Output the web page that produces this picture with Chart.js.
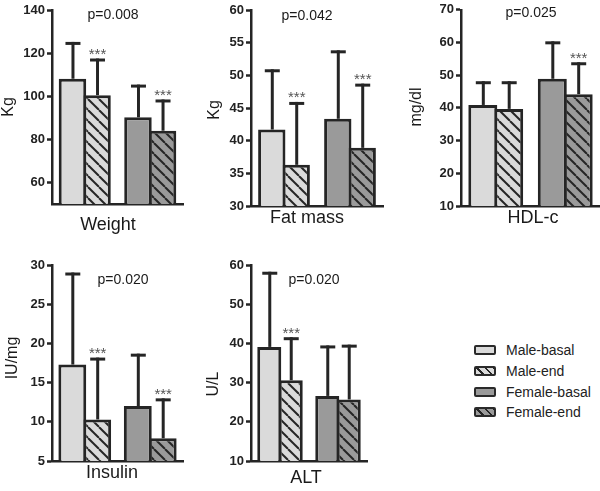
<!DOCTYPE html>
<html><head><meta charset="utf-8">
<script src="https://cdn.jsdelivr.net/npm/chart.js@4.4.1/dist/chart.umd.min.js"></script>
<style>
html,body{margin:0;padding:0;background:#fff;overflow:hidden;}
#wrap{position:relative;width:600px;height:491px;font-family:"Liberation Sans",Arial,sans-serif;}
canvas.pc{position:absolute;}
.leg{position:absolute;left:474px;height:21px;display:flex;align-items:center;font-size:14px;color:#222;}
.sw{width:22px;height:10px;box-sizing:border-box;border:2.5px solid #2a2a2a;border-radius:2px;margin-right:10px;}
</style></head>
<body><div id="wrap">
<canvas class="pc" id="c0" width="200" height="240" style="left:0;top:0"></canvas>
<canvas class="pc" id="c1" width="200" height="240" style="left:200px;top:0"></canvas>
<canvas class="pc" id="c2" width="200" height="240" style="left:400px;top:0"></canvas>
<canvas class="pc" id="c3" width="200" height="251" style="left:0;top:240px"></canvas>
<canvas class="pc" id="c4" width="200" height="251" style="left:200px;top:240px"></canvas>
<div id="legend"></div>
</div>
<script>
// ---- data ----
const categories = ['Male', 'Female'];
const seriesNames = ['Male-basal', 'Male-end', 'Female-basal', 'Female-end'];

const weightMean = [108.1, 100.5, 90.2, 84.0];
const weightSD   = [16.4, 16.3, 14.5, 13.8];
const weightStars = [false, true, false, true];
const weightTicks = [60, 80, 100, 120, 140];
const weightRange = [50, 140];

const fatMean = [41.7, 36.3, 43.35, 38.9];
const fatSD   = [9.0, 9.4, 10.25, 9.6];
const fatStars = [false, true, false, true];
const fatTicks = [30, 35, 40, 45, 50, 55, 60];
const fatRange = [30, 60];

const hdlMean = [40.9, 39.7, 48.9, 44.2];
const hdlSD   = [6.8, 8.0, 11.0, 9.3];
const hdlStars = [false, false, false, true];
const hdlTicks = [10, 20, 30, 40, 50, 60, 70];
const hdlRange = [10, 70];

const insulinMean = [17.3, 10.3, 12.0, 7.9];
const insulinSD   = [11.55, 7.7, 6.5, 4.9];
const insulinStars = [false, true, false, true];
const insulinTicks = [5, 10, 15, 20, 25, 30];
const insulinRange = [5, 30];

const altMean = [39.1, 30.6, 26.6, 25.7];
const altSD   = [18.8, 10.6, 12.5, 13.6];
const altStars = [false, true, false, false];
const altTicks = [10, 20, 30, 40, 50, 60];
const altRange = [10, 60];

const panelTitles = ['Weight', 'Fat mass', 'HDL-c', 'Insulin', 'ALT'];
const panelUnits = ['Kg', 'Kg', 'mg/dl', 'IU/mg', 'U/L'];
const panelP = ['p=0.008', 'p=0.042', 'p=0.025', 'p=0.020', 'p=0.020'];

// ---- styling / layout ----
const FONT = '"Liberation Sans", Arial, sans-serif';
const DARK = '#252525';
const LIGHT = '#dadada';
const MID = '#9a9a9a';

function hatch(bg) {
  const s = 11;
  const c = document.createElement('canvas');
  c.width = s; c.height = s;
  const g = c.getContext('2d');
  g.fillStyle = bg; g.fillRect(0, 0, s, s);
  g.strokeStyle = DARK; g.lineWidth = 2;
  for (const o of [-s, 0, s]) {
    g.beginPath(); g.moveTo(o, 0); g.lineTo(o + s, s); g.stroke();
  }
  return g.createPattern(c, 'repeat');
}
const fills = [LIGHT, hatch(LIGHT), MID, hatch(MID)];

const panels = [
  {id: 'c0', mean: weightMean, sd: weightSD, stars: weightStars, ticks: weightTicks, range: weightRange,
   area: {l: 52, t: 10, r: 183, b: 204}, w: 200, h: 240, cat: 0.75,
   pPos: [113, 15], xPos: [108, 225], yPos: [9, 107]},
  {id: 'c1', mean: fatMean, sd: fatSD, stars: fatStars, ticks: fatTicks, range: fatRange,
   area: {l: 51, t: 10, r: 183, b: 206}, w: 200, h: 240, cat: 0.74,
   pPos: [107, 16], xPos: [107, 218], yPos: [15, 110]},
  {id: 'c2', mean: hdlMean, sd: hdlSD, stars: hdlStars, ticks: hdlTicks, range: hdlRange,
   area: {l: 61, t: 6, r: 200, b: 206}, w: 200, h: 240, cat: 0.745,
   pPos: [131, 13], xPos: [133, 218], yPos: [17, 107]},
  {id: 'c3', mean: insulinMean, sd: insulinSD, stars: insulinStars, ticks: insulinTicks, range: insulinRange,
   area: {l: 52, t: 25, r: 183, b: 221}, w: 200, h: 251, cat: 0.76,
   pPos: [123, 40], xPos: [112, 233], yPos: [13, 118]},
  {id: 'c4', mean: altMean, sd: altSD, stars: altStars, ticks: altTicks, range: altRange,
   area: {l: 51, t: 25, r: 167, b: 221}, w: 200, h: 251, cat: 0.74,
   pPos: [114, 40], xPos: [106, 238], yPos: [14, 144]},
];

const errPlugin = {
  id: 'errbars',
  afterDatasetsDraw(chart, args, opts) {
    const p = opts.panel;
    const ctx = chart.ctx, ys = chart.scales.y;
    ctx.save();
    seriesNames.forEach((n, i) => {
      const idx = i < 2 ? 0 : 1;
      const el = chart.getDatasetMeta(i).data[idx];
      if (!el) return;
      const x = el.x, yTop = el.y;
      const yCap = ys.getPixelForValue(p.mean[i] + p.sd[i]);
      ctx.strokeStyle = DARK; ctx.lineWidth = 3; ctx.lineCap = 'butt';
      ctx.beginPath(); ctx.moveTo(x + 0.5, yTop); ctx.lineTo(x + 0.5, yCap - 1.5); ctx.stroke();
      ctx.beginPath(); ctx.moveTo(x - 7, yCap); ctx.lineTo(x + 8, yCap); ctx.stroke();
      if (p.stars[i]) {
        ctx.fillStyle = '#555';
        ctx.font = '15px ' + FONT;
        ctx.textAlign = 'center'; ctx.textBaseline = 'alphabetic';
        ctx.fillText('***', x + 0.5, yCap - 1);
      }
    });
    ctx.restore();
  },
  afterDraw(chart, args, opts) {
    const p = opts.panel, k = opts.k;
    const ctx = chart.ctx;
    ctx.save();
    ctx.fillStyle = '#1a1a1a';
    ctx.textAlign = 'center'; ctx.textBaseline = 'middle';
    ctx.font = '14px ' + FONT;
    ctx.fillText(panelP[k], p.pPos[0], p.pPos[1]);
    ctx.font = '18px ' + FONT;
    ctx.fillText(panelTitles[k], p.xPos[0], p.xPos[1]);
    ctx.translate(p.yPos[0], p.yPos[1]);
    ctx.rotate(-Math.PI / 2);
    ctx.font = '16px ' + FONT;
    ctx.fillText(panelUnits[k], 0, 0);
    ctx.restore();
  }
};

panels.forEach((p, k) => {
  const datasets = seriesNames.map((name, i) => ({
    label: name,
    data: i < 2 ? [p.mean[i], null] : [null, p.mean[i]],
    backgroundColor: fills[i],
    borderColor: DARK,
    borderWidth: 3,
    borderSkipped: false,
    barPercentage: 1.12,
    categoryPercentage: p.cat,
  }));
  new Chart(document.getElementById(p.id), {
    type: 'bar',
    data: {labels: categories, datasets},
    plugins: [errPlugin],
    options: {
      responsive: false, animation: false,
      skipNull: true,
      layout: {padding: {left: 0, top: p.area.t, right: p.w - p.area.r, bottom: p.h - p.area.b}},
      plugins: {legend: {display: false}, tooltip: {enabled: false}, errbars: {panel: p, k}},
      scales: {
        x: {
          grid: {display: false},
          ticks: {display: false},
          border: {display: true, color: DARK, width: 2.5},
          afterFit(s) { s.height = 0; }
        },
        y: {
          min: p.range[0], max: p.range[1],
          afterBuildTicks(s) { s.ticks = p.ticks.map(v => ({value: v})); },
          afterFit(s) { s.width = p.area.l; },
          grid: {display: true, drawOnChartArea: false, drawTicks: true, tickLength: 5,
                 tickWidth: 2.5, tickColor: DARK, color: DARK},
          border: {display: true, color: DARK, width: 2.5},
          ticks: {padding: 2, color: '#222', font: {family: FONT, size: 13, weight: 'bold'}}
        }
      }
    }
  });
});

// legend
const legendTops = [339, 360, 381, 401];
const swatchCss = [
  LIGHT,
  'repeating-linear-gradient(45deg,' + LIGHT + ' 0 4px,' + DARK + ' 4px 6px)',
  MID,
  'repeating-linear-gradient(45deg,' + MID + ' 0 4px,' + DARK + ' 4px 6px)'
];
const legEl = document.getElementById('legend');
seriesNames.forEach((n, i) => {
  const d = document.createElement('div');
  d.className = 'leg';
  d.style.top = legendTops[i] + 'px';
  const sw = document.createElement('div');
  sw.className = 'sw';
  sw.style.background = swatchCss[i];
  const t = document.createElement('span');
  t.textContent = n;
  d.appendChild(sw); d.appendChild(t);
  legEl.appendChild(d);
});
</script>
</body></html>
